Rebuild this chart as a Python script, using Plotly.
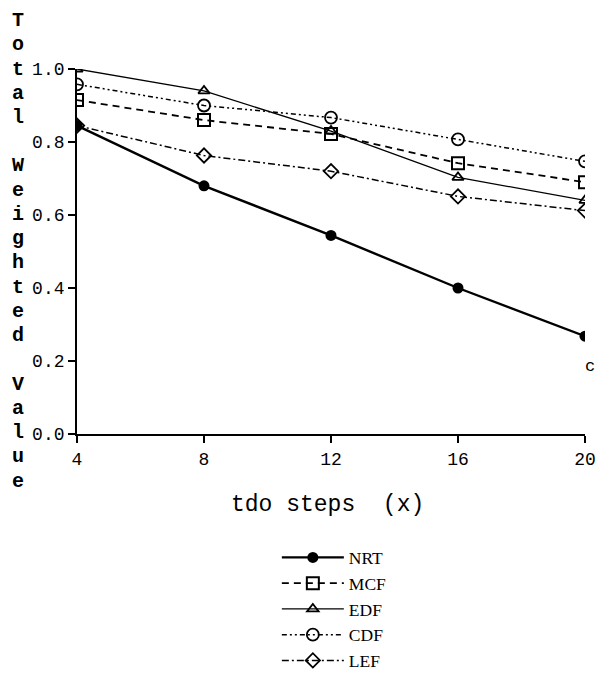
import plotly.graph_objects as go

# ---- data ----
steps = [4, 8, 12, 16, 20]
nrt = [0.845, 0.68, 0.544, 0.40, 0.268]
mcf = [0.915, 0.86, 0.822, 0.742, 0.69]
edf = [1.00, 0.94, 0.83, 0.703, 0.64]
cdf = [0.958, 0.90, 0.867, 0.807, 0.747]
lef = [0.845, 0.763, 0.72, 0.651, 0.612]
y_ticks = [0.0, 0.2, 0.4, 0.6, 0.8, 1.0]
y_tick_text = ["0.0", "0.2", "0.4", "0.6", "0.8", "1.0"]
x_ticks = [4, 8, 12, 16, 20]
y_title = "Total Weighted Value"
x_title = "tdo steps  (x)"

W, H = 608, 691
L, R, T, B = 77, 15, 69, 238
plot_w = W - L - R
plot_h = H - T - B

mono = "Liberation Mono"
serif = "Liberation Serif"

series = [
    ("NRT", nrt, dict(dash="solid", width=2.4), dict(symbol="circle", size=11)),
    ("MCF", mcf, dict(dash="7px,5px", width=1.8), dict(symbol="square-open", size=12, line=dict(width=2))),
    ("EDF", edf, dict(dash="solid", width=1.3), dict(symbol="triangle-up-open", size=10, line=dict(width=1.8))),
    ("CDF", cdf, dict(dash="5px,3px,2px,3px,2px,3px", width=1.5), dict(symbol="circle-open", size=12, line=dict(width=1.8))),
    ("LEF", lef, dict(dash="7px,3px,2px,3px", width=1.5), dict(symbol="diamond-open", size=11, line=dict(width=1.8))),
]

fig = go.Figure()
for name, vals, ln, mk in series:
    fig.add_trace(go.Scatter(
        x=steps, y=vals, name=name, mode="lines+markers",
        line=dict(color="black", **ln),
        marker=dict(color="black", **mk),
    ))

def px_x(px):
    return (px - L) / plot_w

def px_y(py):
    return (H - B - py) / plot_h

# vertical stacked y-axis title
annotations = []
step_px = 25.5
for i, ch in enumerate(y_title):
    if ch == " ":
        continue
    py = 18 + i * step_px
    annotations.append(dict(
        text="<b>" + ch + "</b>", xref="paper", yref="paper",
        x=px_x(17), y=px_y(py),
        xanchor="center", yanchor="middle", showarrow=False,
        font=dict(family=mono, size=20, color="black"),
    ))

annotations.append(dict(
    text=x_title, xref="paper", yref="paper",
    x=px_x(331), y=px_y(528),
    xanchor="center", yanchor="middle", showarrow=False,
    font=dict(family=mono, size=23, color="black"),
))
annotations.append(dict(
    text="c", xref="paper", yref="paper",
    x=px_x(598), y=px_y(382),
    xanchor="center", yanchor="middle", showarrow=False,
    font=dict(family=mono, size=17, color="black"),
))

fig.update_layout(
    width=W, height=H,
    margin=dict(l=L, r=R, t=T, b=B),
    paper_bgcolor="white", plot_bgcolor="white",
    showlegend=True,
    legend=dict(
        x=px_x(280), y=px_y(564),
        xanchor="left", yanchor="top",
        font=dict(family=serif, size=17.5, color="black"),
        bgcolor="rgba(0,0,0,0)", tracegroupgap=0,
        itemwidth=62,
    ),
    annotations=annotations,
    xaxis=dict(
        range=[4, 20], tickvals=x_ticks, ticktext=[str(v) for v in x_ticks],
        showgrid=False, zeroline=False, showline=True, linecolor="black", linewidth=2.2,
        ticks="outside", ticklen=7, tickwidth=1.8, tickcolor="black",
        tickfont=dict(family=mono, size=18, color="black"),
    ),
    yaxis=dict(
        range=[0, 1.0], tickvals=y_ticks, ticktext=y_tick_text,
        showgrid=False, zeroline=False, showline=True, linecolor="black", linewidth=1.8,
        ticks="outside", ticklen=7, tickwidth=1.8, tickcolor="black",
        tickfont=dict(family=mono, size=18, color="black"),
    ),
)

fig.write_html(
    "out.html",
    config={"displayModeBar": False},
    post_script="document.body.style.margin='0';document.body.style.overflow='hidden';",
)
